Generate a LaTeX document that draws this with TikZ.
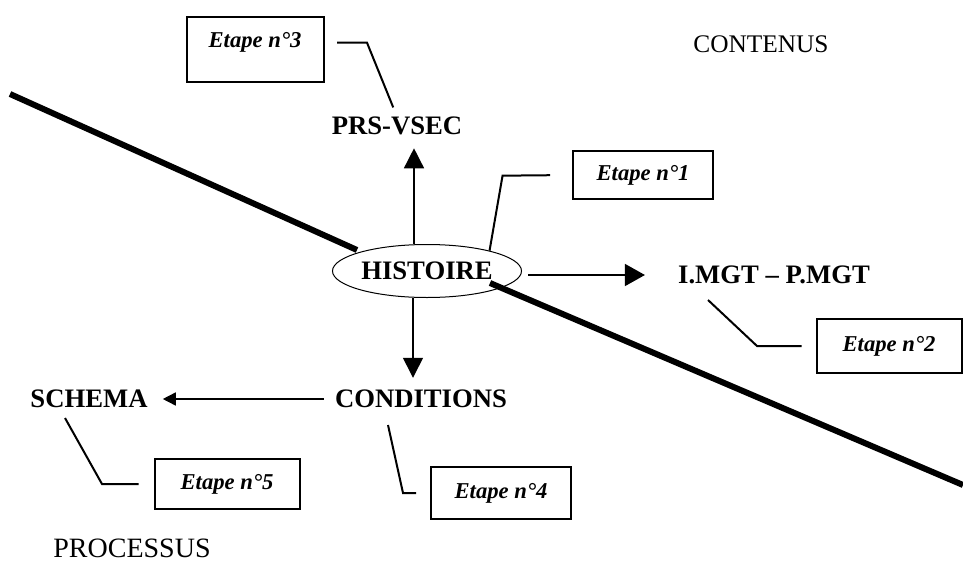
\documentclass[tikz,border=0pt]{standalone}
\usepackage{fontspec}
\setmainfont{Liberation Serif}
\usetikzlibrary{shapes.geometric,arrows.meta}
\newlength{\du}
\setlength{\du}{0.75pt}
\definecolor{dialinecolor}{rgb}{0.000000, 0.000000, 0.000000}
\definecolor{diafillcolor}{rgb}{1.000000, 1.000000, 1.000000}

\begin{document}
\begin{tikzpicture}[
  color=dialinecolor,
  etape/.style={draw=dialinecolor,line width=2\du,minimum width=140\du,minimum height=48\du,inner sep=0pt,font=\fontsize{17}{19}\selectfont\bfseries\itshape},
  titre/.style={inner sep=0pt,font=\fontsize{20}{22}\selectfont\bfseries},
  zone/.style={inner sep=0pt,font=\fontsize{19}{21}\selectfont},
  fleche/.style={line width=1.5\du,-{Triangle[length=15pt,width=15pt]}},
  petitefleche/.style={line width=1.5\du,-{Triangle[length=9.75pt,width=9.75pt]}},
  renvoi/.style={line width=2\du,line join=miter},
  ligne/.style={line width=6\du,line cap=butt}
]
\pgftransformxscale{1.000000}
\pgftransformyscale{-1.000000}
\useasboundingbox (0\du,0\du) rectangle (963\du,564\du);
% labels
\node[titre] (prs) at (397\du,126\du){PRS-VSEC};
\node[titre,draw=dialinecolor,ellipse,line width=1\du,minimum width=189\du,minimum height=53\du] (hist) at (427\du,271\du){HISTOIRE};
\node[titre] (imgt) at (774\du,275\du){I.MGT – P.MGT};
\node[titre] (cond) at (421\du,399\du){CONDITIONS};
\node[titre] (schema) at (89\du,399\du){SCHEMA};
\node[zone] (contenus) at (761\du,44\du){CONTENUS};
\node[zone,font=\fontsize{21}{23}\selectfont] (processus) at (132\du,548\du){PROCESSUS};
% boxes
\node[etape] (b1) at (643\du,175\du){Etape n°1};
\node[etape,minimum width=145\du,minimum height=54\du] (b2) at (889\du,346\du){Etape n°2};
\node[etape,minimum width=137\du,minimum height=65\du,text depth=13.5pt] (b3) at (255\du,49\du){Etape n°3};
\node[etape,minimum height=52\du] (b4) at (501\du,493\du){Etape n°4};
\node[etape,minimum width=145\du,minimum height=50\du] (b5) at (227\du,484\du){Etape n°5};
% the oblique line
\draw[ligne] (10\du,94\du)--(357\du,250\du);
\draw[ligne] (490\du,283\du)--(963\du,485\du);
% arrows
\coordinate (hup) at ([xshift=-13\du]hist.north);
\coordinate (hdn) at ([xshift=-14\du]hist.south);
\draw[fleche,shorten >=13\du] (hup)--(hup |- prs.south);
\draw[fleche,shorten >=12\du] (hdn)--(hdn |- cond.north);
\draw[fleche,-{Triangle[length=15pt,width=16.5pt]},shorten <=6\du,shorten >=33\du] (hist.east |- imgt.west)--(imgt.west);
\draw[petitefleche,shorten <=11\du,shorten >=15\du] (cond.west)--(schema.east);
% leaders
\coordinate (r2) at (708\du,300\du);
\coordinate (r4) at (388\du,425\du);
\coordinate (r5) at (65\du,418\du);
\draw[renvoi,shorten >=22\du] (hist.18)--++(13\du,-75\du)--(b1.west);
\draw[renvoi,shorten >=14\du] (r2)--++(49\du,46\du)--(b2.west);
\draw[renvoi,shorten <=10\du] (prs.north)--++(-30\du,-74\du)--++(-30\du,0\du);
\draw[renvoi,shorten >=14\du] (r4)--++(15\du,68\du)--(b4.west);
\draw[renvoi,shorten >=15\du] (r5)--++(37\du,66\du)--(b5.west);
\end{tikzpicture}
\end{document}
